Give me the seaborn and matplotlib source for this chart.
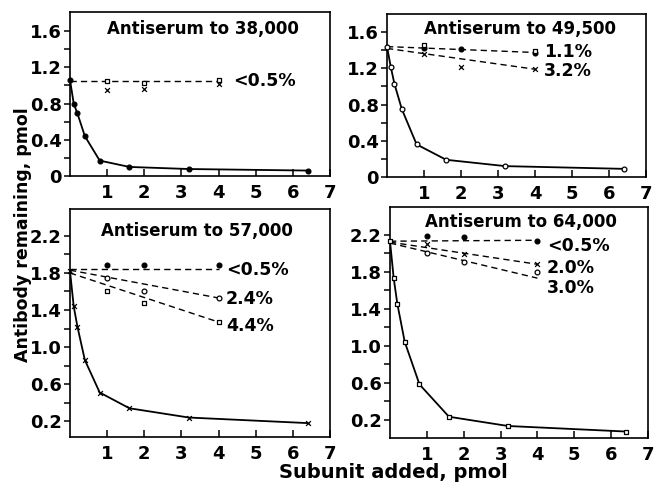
import matplotlib
matplotlib.use("Agg")
import matplotlib.pyplot as plt
import seaborn as sns
import pandas as pd
from matplotlib.ticker import FixedLocator

sns.set_theme(style="ticks")
plt.rcParams['font.family'] = ['DejaVu Sans']
plt.rcParams['font.weight'] = 'bold'
plt.rcParams['text.color'] = 'black'
plt.rcParams['axes.labelcolor'] = 'black'
plt.rcParams['xtick.color'] = 'black'
plt.rcParams['ytick.color'] = 'black'
plt.rcParams['xtick.labelcolor'] = 'black'
plt.rcParams['ytick.labelcolor'] = 'black'

# ---------------- data ----------------
subunit = [0, 0.1, 0.2, 0.4, 0.8, 1.6, 3.2, 6.4]
pts = [1, 2, 4]
fit_x = [0, 4]
x_ticks = [1, 2, 3, 4, 5, 6, 7]
x_ticklabels = ["1", "2", "3", "4", "5", "6", "7"]

top_yticks = [0, 0.4, 0.8, 1.2, 1.6]
top_yticklabels = ["0", "0.4", "0.8", "1.2", "1.6"]
top_yminor = [0.2, 0.6, 1.0, 1.4]
bot_yticks = [0.2, 0.6, 1.0, 1.4, 1.8, 2.2]
bot_yticklabels = ["0.2", "0.6", "1.0", "1.4", "1.8", "2.2"]
bot_yminor = [0.4, 0.8, 1.2, 1.6, 2.0]

titles = ["Antiserum to 38,000", "Antiserum to 49,500",
          "Antiserum to 57,000", "Antiserum to 64,000"]

# Antiserum to 38,000
a38_curve = [1.06, 0.80, 0.69, 0.44, 0.17, 0.10, 0.077, 0.06]
a38_squares = [1.05, 1.03, 1.06]
a38_crosses = [0.95, 0.96, 1.02]
a38_fit = [1.045, 1.045]
a38_labels = ["<0.5%"]
a38_label_y = [1.05]

# Antiserum to 49,500
a49_curve = [1.44, 1.22, 1.03, 0.75, 0.36, 0.19, 0.12, 0.09]
a49_filled = [1.42, 1.41, 1.37]
a49_squares_x = [1, 4]
a49_squares = [1.46, 1.39]
a49_crosses = [1.36, 1.21, 1.19]
a49_fit_1 = [1.44, 1.375]
a49_fit_2 = [1.42, 1.19]
a49_labels = ["1.1%", "3.2%"]
a49_label_y = [1.38, 1.17]

# Antiserum to 57,000
a57_curve = [1.82, 1.44, 1.22, 0.86, 0.51, 0.34, 0.24, 0.18]
a57_filled = [1.89, 1.89, 1.89]
a57_open = [1.75, 1.605, 1.53]
a57_squares = [1.605, 1.48, 1.27]
a57_fit_1 = [1.84, 1.84]
a57_fit_2 = [1.83, 1.53]
a57_fit_3 = [1.80, 1.27]
a57_labels = ["<0.5%", "2.4%", "4.4%"]
a57_label_y = [1.83, 1.52, 1.23]

# Antiserum to 64,000
a64_curve = [2.13, 1.73, 1.45, 1.04, 0.58, 0.23, 0.13, 0.07]
a64_filled = [2.19, 2.17, 2.13]
a64_crosses = [2.10, 1.99, 1.88]
a64_open = [2.00, 1.91, 1.80]
a64_fit_1 = [2.13, 2.14]
a64_fit_2 = [2.12, 1.88]
a64_fit_3 = [2.11, 1.73]
a64_labels = ["<0.5%", "2.0%", "3.0%"]
a64_label_y = [2.08, 1.84, 1.62]

# --------------- styling ----------------
MARK = {
    "filled": dict(marker="o", face="black"),
    "open": dict(marker="o", face="white"),
    "square": dict(marker="s", face="white"),
    "cross": dict(marker="x", face="black"),
}

panels = [
    dict(rect=[70, 12, 330, 176], ylim=(0, 1.81), top=True, title=titles[0],
         tpos=(0.51, 0.895), curve=a38_curve, cmark="filled",
         groups=[("square", pts, a38_squares), ("cross", pts, a38_crosses)],
         fits=[a38_fit], labels=a38_labels, label_y=a38_label_y, label_x=4.38),
    dict(rect=[387, 14, 646, 177], ylim=(0, 1.8), top=True, title=titles[1],
         tpos=(0.515, 0.906), curve=a49_curve, cmark="open",
         groups=[("filled", pts, a49_filled), ("square", a49_squares_x, a49_squares),
                 ("cross", pts, a49_crosses)],
         fits=[a49_fit_1, a49_fit_2], labels=a49_labels, label_y=a49_label_y,
         label_x=4.25),
    dict(rect=[70, 209, 330, 437], ylim=(0.03, 2.49), top=False, title=titles[2],
         tpos=(0.49, 0.905), curve=a57_curve, cmark="cross",
         groups=[("filled", pts, a57_filled), ("open", pts, a57_open),
                 ("square", pts, a57_squares)],
         fits=[a57_fit_1, a57_fit_2, a57_fit_3], labels=a57_labels,
         label_y=a57_label_y, label_x=4.2),
    dict(rect=[390, 207, 648, 438], ylim=(0, 2.5), top=False, title=titles[3],
         tpos=(0.507, 0.936), curve=a64_curve, cmark="square",
         groups=[("filled", pts, a64_filled), ("cross", pts, a64_crosses),
                 ("open", pts, a64_open)],
         fits=[a64_fit_1, a64_fit_2, a64_fit_3], labels=a64_labels,
         label_y=a64_label_y, label_x=4.25),
]

W, H = 655, 483
fig = plt.figure(figsize=(W / 100, H / 100), dpi=100)
fig.patch.set_facecolor("white")


def scatter(ax, xs, ys, kind):
    m = MARK[kind]
    df = pd.DataFrame({"x": xs, "y": ys})
    sns.scatterplot(data=df, x="x", y="y", ax=ax, marker=m["marker"], s=12,
                    color="black", linewidth=0.9, zorder=5, clip_on=False)
    pc = ax.collections[-1]
    if kind == "cross":
        pc.set_edgecolor("black")
        pc.set_facecolor("black")
    else:
        pc.set_facecolor(m["face"])
        pc.set_edgecolor("black")


for p in panels:
    l, t, r, b = p["rect"]
    ax = fig.add_axes([l / W, (H - b) / H, (r - l) / W, (b - t) / H])
    ax.set_facecolor("white")
    # solid curve
    dfc = pd.DataFrame({"x": subunit, "y": p["curve"]})
    sns.lineplot(data=dfc, x="x", y="y", ax=ax, color="black", lw=1.3,
                 estimator=None, sort=False, zorder=3)
    scatter(ax, subunit, p["curve"], p["cmark"])
    # dashed regression lines
    for fv in p["fits"]:
        dff = pd.DataFrame({"x": fit_x, "y": fv})
        sns.lineplot(data=dff, x="x", y="y", ax=ax, color="black", lw=1.0,
                     estimator=None, sort=False, zorder=3)
        ax.lines[-1].set_linestyle((0, (4.5, 3)))
    for kind, xs, ys in p["groups"]:
        scatter(ax, xs, ys, kind)
    for txt, yy in zip(p["labels"], p["label_y"]):
        ax.text(p["label_x"], yy, txt, fontsize=12.5, fontweight="bold",
                va="center", ha="left", color="black")
    ax.text(p["tpos"][0], p["tpos"][1], p["title"], transform=ax.transAxes,
            fontsize=12, fontweight="bold", ha="center", va="center",
            color="black")

    ax.set_xlim(0, 7)
    ax.set_ylim(*p["ylim"])
    ax.xaxis.set_major_locator(FixedLocator(x_ticks))
    ax.set_xticklabels(x_ticklabels)
    if p["top"]:
        ax.yaxis.set_major_locator(FixedLocator(top_yticks))
        ax.set_yticklabels(top_yticklabels)
        ax.yaxis.set_minor_locator(FixedLocator(top_yminor))
    else:
        ax.yaxis.set_major_locator(FixedLocator(bot_yticks))
        ax.set_yticklabels(bot_yticklabels)
        ax.yaxis.set_minor_locator(FixedLocator(bot_yminor))
    ax.tick_params(axis="x", which="major", direction="in", length=5, width=1.1,
                   labelsize=13, pad=6, colors="black")
    ax.tick_params(axis="y", which="both", direction="out", length=4, width=1.1,
                   labelsize=13, pad=2, colors="black")
    for lab in ax.get_xticklabels() + ax.get_yticklabels():
        lab.set_fontweight("bold")
        lab.set_color("black")
    for s in ax.spines.values():
        s.set_visible(True)
        s.set_linewidth(1.2)
        s.set_color("black")
    ax.set_xlabel("")
    ax.set_ylabel("")

fig.text(0.035, 0.515, "Antibody remaining, pmol", rotation=90, fontsize=12.5,
         fontweight="bold", ha="center", va="center", color="black")
fig.text(0.6, 0.022, "Subunit added, pmol", fontsize=14, fontweight="bold",
         ha="center", va="center", color="black")

fig.savefig("out.png", dpi=100, facecolor="white")
